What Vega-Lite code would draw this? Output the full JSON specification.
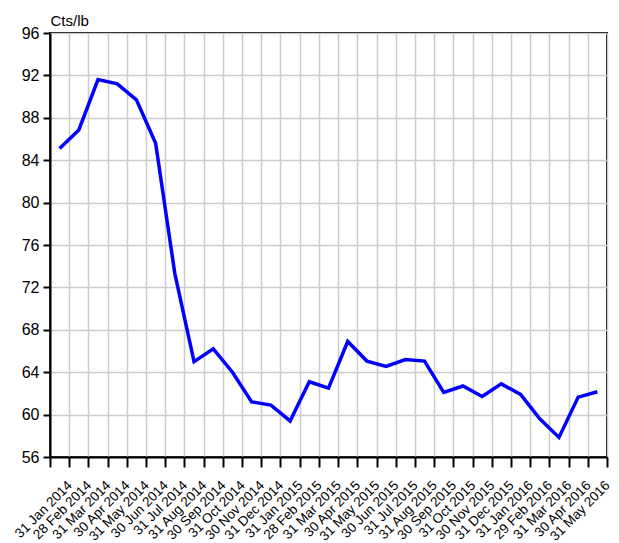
{
  "$schema": "https://vega.github.io/schema/vega-lite/v6.json",
  "width": 557,
  "height": 424,
  "autosize": {"type": "none"},
  "padding": {"left": 50, "top": 33, "right": 12, "bottom": 86},
  "background": "white",
  "config": {
    "view": {"stroke": "black", "strokeWidth": 2},
    "font": "Liberation Sans"
  },
  "data": {
    "values": [
      {"date": "31 Jan 2014", "v": 85.1},
      {"date": "28 Feb 2014", "v": 86.85},
      {"date": "31 Mar 2014", "v": 91.6},
      {"date": "30 Apr 2014", "v": 91.2},
      {"date": "31 May 2014", "v": 89.7},
      {"date": "30 Jun 2014", "v": 85.6},
      {"date": "31 Jul 2014", "v": 73.3},
      {"date": "31 Aug 2014", "v": 65.0},
      {"date": "30 Sep 2014", "v": 66.2},
      {"date": "31 Oct 2014", "v": 64.0},
      {"date": "30 Nov 2014", "v": 61.2},
      {"date": "31 Dec 2014", "v": 60.9},
      {"date": "31 Jan 2015", "v": 59.4},
      {"date": "28 Feb 2015", "v": 63.1},
      {"date": "31 Mar 2015", "v": 62.5},
      {"date": "30 Apr 2015", "v": 66.9},
      {"date": "31 May 2015", "v": 65.05},
      {"date": "30 Jun 2015", "v": 64.55},
      {"date": "31 Jul 2015", "v": 65.2},
      {"date": "31 Aug 2015", "v": 65.05},
      {"date": "30 Sep 2015", "v": 62.1},
      {"date": "31 Oct 2015", "v": 62.7},
      {"date": "30 Nov 2015", "v": 61.7},
      {"date": "31 Dec 2015", "v": 62.9},
      {"date": "31 Jan 2016", "v": 61.9},
      {"date": "29 Feb 2016", "v": 59.6},
      {"date": "31 Mar 2016", "v": 57.85},
      {"date": "30 Apr 2016", "v": 61.65},
      {"date": "31 May 2016", "v": 62.15}
    ]
  },
  "mark": {"type": "line", "color": "#0000FF", "strokeWidth": 3.5},
  "encoding": {
    "x": {
      "field": "date",
      "type": "ordinal",
      "sort": null,
      "bandPosition": 0.5,
      "scale": {"type": "band", "paddingInner": 0, "paddingOuter": 0},
      "axis": {
        "title": null,
        "tickBand": "extent",
        "labelAngle": -45,
        "labelAlign": "right",
        "labelBaseline": "top",
        "labelOffset": 5,
        "labelPadding": 11,
        "labelFontSize": 13.5,
        "labelColor": "black",
        "labelOverlap": false,
        "labelFlush": false,
        "tickColor": "black",
        "tickSize": 10,
        "tickWidth": 2,
        "domainColor": "black",
        "domainWidth": 2,
        "grid": true,
        "gridColor": "#cccccc",
        "gridWidth": 1.5
      }
    },
    "y": {
      "field": "v",
      "type": "quantitative",
      "scale": {"domain": [56, 96], "nice": false, "zero": false},
      "axis": {
        "values": [56, 60, 64, 68, 72, 76, 80, 84, 88, 92, 96],
        "title": "Cts/lb",
        "titleAngle": 0,
        "titleX": 0,
        "titleY": -8,
        "titleAlign": "left",
        "titleBaseline": "alphabetic",
        "titleFontSize": 15,
        "titleFontWeight": "normal",
        "titleColor": "black",
        "labelFontSize": 16,
        "labelColor": "black",
        "labelPadding": 4,
        "tickColor": "black",
        "tickSize": 7,
        "tickWidth": 2,
        "domainColor": "black",
        "domainWidth": 2,
        "grid": true,
        "gridColor": "#cccccc",
        "gridWidth": 1.5
      }
    }
  }
}
